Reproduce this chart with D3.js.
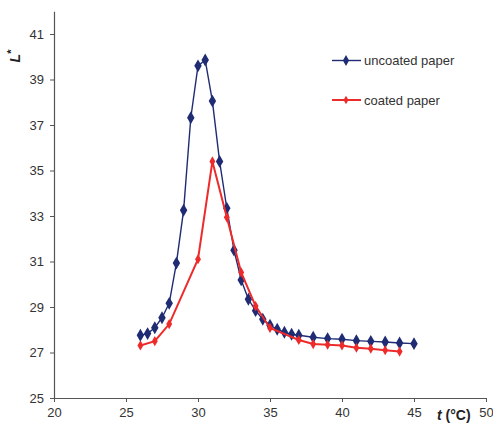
<!DOCTYPE html>
<html><head><meta charset="utf-8">
<script src="https://cdn.jsdelivr.net/npm/d3@7"></script>
<style>body{margin:0;background:#fff;}svg{display:block;font-family:"Liberation Sans",Arial,sans-serif;}</style>
</head><body>
<svg id="c" width="493" height="424"></svg>
<script>
const uncoatedT = [26,26.5,27,27.5,28,28.5,29,29.5,30,30.5,31,31.5,32,32.5,33,33.5,34,34.5,35,35.5,36,36.5,37,38,39,40,41,42,43,44,45];
const uncoatedL = [27.76,27.83,28.09,28.53,29.16,30.93,33.25,37.32,39.6,39.86,38.05,35.4,33.34,31.5,30.19,29.34,28.84,28.46,28.2,28.02,27.89,27.8,27.76,27.67,27.61,27.58,27.52,27.49,27.46,27.42,27.39];
const coatedT = [26,27,28,30,31,32,33,34,35,37,38,39,40,41,42,43,44];
const coatedL = [27.31,27.5,28.25,31.1,35.4,32.94,30.52,29.04,28.08,27.55,27.37,27.34,27.31,27.21,27.17,27.1,27.04];
const xTicks = [20,25,30,35,40,45,50];
const yTicks = [25,27,29,31,33,35,37,39,41];
const seriesNames = ["uncoated paper","coated paper"];

const svg = d3.select("#c");
const x = d3.scaleLinear().domain([20,50]).range([54,486]);
const y = d3.scaleLinear().domain([25,42]).range([398,11.25]);

const axisColor = "#555";
const gx = svg.append("g").attr("transform","translate(0,398)")
  .call(d3.axisBottom(x).tickValues(xTicks).tickSize(4).tickSizeOuter(0).tickPadding(6));
const gy = svg.append("g").attr("transform","translate(54,0)")
  .call(d3.axisLeft(y).tickValues(yTicks).tickSize(4).tickSizeOuter(0).tickPadding(6));
[gx,gy].forEach(g=>{
  g.select(".domain").attr("stroke",axisColor).attr("stroke-width",1.2);
  g.selectAll(".tick line").attr("stroke",axisColor);
  g.selectAll(".tick text").attr("fill","#333").style("font-size","13px").style("font-family","'Liberation Sans',Arial,sans-serif");
});

const diamond = d3.symbol().type(d3.symbolDiamond);
function drawSeries(T, L, color, width, size){
  const pts = T.map((t,i)=>[t,L[i]]);
  svg.append("path").datum(pts)
    .attr("fill","none").attr("stroke",color).attr("stroke-width",width)
    .attr("d", d3.line().x(d=>x(d[0])).y(d=>y(d[1])));
  svg.append("g").selectAll("path").data(pts).join("path")
    .attr("transform",d=>`translate(${x(d[0])},${y(d[1])})`)
    .attr("d", diamond.size(size)()).attr("fill",color);
}
const navy = "#1f2c74", red = "#ee2b2b";
drawSeries(uncoatedT, uncoatedL, navy, 1.4, 48);
drawSeries(coatedT, coatedL, red, 2, 30);

// legend
const leg = [[navy,1.4,48,60.5],[red,2,30,100]];
leg.forEach((l,i)=>{
  svg.append("line").attr("x1",332).attr("x2",361).attr("y1",l[3]).attr("y2",l[3]).attr("stroke",l[0]).attr("stroke-width",l[1]);
  svg.append("path").attr("transform",`translate(346,${l[3]})`).attr("d",diamond.size(l[2]*0.7)()).attr("fill",l[0]);
  svg.append("text").attr("x",364).attr("y",l[3]+4.5).attr("fill","#333").style("font-size","13px").text(seriesNames[i]);
});

// axis titles
const yt = svg.append("text").attr("transform","translate(20,56) rotate(-90)").attr("text-anchor","middle")
  .attr("fill","#222").style("font-size","14px").style("font-weight","bold");
yt.append("tspan").style("font-style","italic").text("L");
yt.append("tspan").attr("dy",-5).style("font-size","11px").text("*");

const xt = svg.append("text").attr("x",437).attr("y",420).attr("fill","#222").style("font-size","14px").style("font-weight","bold");
xt.append("tspan").style("font-style","italic").text("t");
xt.append("tspan").text(" (°C)");
</script>
</body></html>
